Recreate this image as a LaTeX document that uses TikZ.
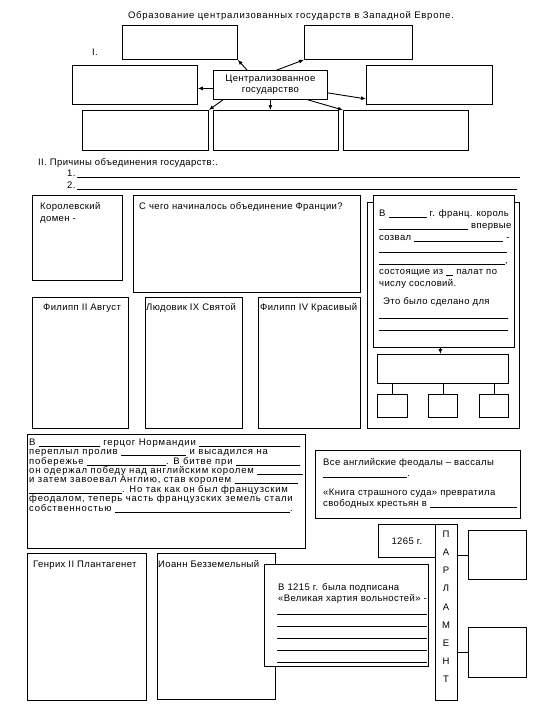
\documentclass[tikz,border=0pt]{standalone}
\usepackage{fontspec}
\setmainfont{Liberation Sans}[LetterSpace=4]
\usetikzlibrary{arrows.meta}
\newcommand{\bl}[1]{\rule[-1.2pt]{#1pt}{0.5pt}}
\newcommand{\blf}{\leaders\hrule height -0.7pt depth 1.2pt\hfill}
\newcommand{\fs}{\fontsize{9.5}{11}\selectfont}
\newcommand{\bx}[5]{\node[box, minimum width=#4pt, minimum height=#5pt] (#1) at (#2,#3) {};}
\begin{document}
\begin{tikzpicture}[x=1pt,y=-1pt,
 box/.style={draw, line width=0.8pt, fill=white, inner sep=0pt, anchor=north west},
 t/.style={anchor=base west, inner sep=0pt, font=\fs},
 tw/.style={anchor=base west, inner sep=0pt, font={\fs\addfontfeatures{LetterSpace=8.5}}},
 arr/.style={-{Latex[length=5pt,width=4pt]}, line width=0.9pt},
 ln/.style={line width=0.6pt}]
\useasboundingbox (0,0) rectangle (540,720);
\fill[white] (0,0) rectangle (540,720);

% ---------- part I ----------
\node[anchor=base, inner sep=0pt, font={\fs\addfontfeatures{LetterSpace=8}}] (title) at (291,18) {Образование централизованных государств в Западной Европе.};
\node[t] (n1) at (92,55) {I.};
\bx{tl}{122}{25}{115}{34}
\bx{tr}{304}{25}{108}{34}
\bx{lb}{72}{65}{125}{39}
\bx{rb}{366}{65}{126}{39}
\bx{bl}{82}{110}{126}{40}
\bx{bm}{213}{110}{125}{40}
\bx{br}{343}{110}{125}{40}
\node[box, minimum width=114pt, minimum height=29pt, align=center, font=\fontsize{9.5}{11.5}\selectfont] (c) at (213,70) {Централизованное\\государство};
\draw[arr] ([xshift=34pt]c.north west) -- (tl.south east);
\draw[arr] ([xshift=64pt]c.north west) -- (tr.south west);
\draw[arr] ([yshift=-3.5pt]c.west) -- ([yshift=-3.5pt]lb.east);
\draw[arr] ([yshift=-8pt]c.east) -- ([yshift=-14pt]rb.west);
\draw[arr] (c.south) -- (c.south |- bm.north);
\draw[arr] ([xshift=10pt]c.south west) -- (bl.north east);
\draw[arr] ([xshift=-20pt]c.south east) -- (br.north west);

% ---------- part II ----------
\node[t] (n2) at (38,165) {II. Причины объединения государств:.};
\node[t] (n21) at (67,176) {1.};
\node[t] (n22) at (67,188) {2.};
\draw[ln] (77,177) -- (520,177);
\draw[ln] (77,189) -- (517,189);

% ---------- France ----------
\bx{kd}{32}{195}{90}{85}
\node[t] (kd1) at (40,209) {Королевский};
\node[t] (kd2) at (40,221) {домен -};
\bx{sq}{133}{195}{227}{97}
\node[t] (sq1) at (139,209) {С чего начиналось объединение Франции?};
\bx{f2}{32}{297}{96}{131}
\bx{l9}{145}{297}{97}{131}
\bx{f4}{258}{297}{102}{131}
\node[t] (f2t) at (43,310) {Филипп II Август};
\node[t] (l9t) at (146,310) {Людовик IX Святой};
\node[t] (f4t) at (260,310) {Филипп IV Красивый};

\bx{outer}{367}{202}{152}{226}
\bx{inner}{373}{195}{141}{152}
\node[t] (r1) at (379,216) {В \bl{38} г. франц. король};
\node[t] (r2) at (379,228) {\bl{89} впервые};
\node[t] (r3) at (379,240) {созвал \bl{89} -};
\draw[ln] (379,252) -- (507,252);
\node[t] (r5) at (379,263) {\bl{126},};
\node[t] (r6) at (379,274) {состоящие из \bl{7} палат по};
\node[t] (r7) at (379,286) {числу сословий.};
\node[t] (r8) at (383,304) {Это было сделано для};
\draw[ln] (379,318) -- (508,318);
\draw[ln] (379,330) -- (508,330);
\bx{wide}{377}{354}{131}{29}
\bx{s1}{377}{394}{30}{23}
\bx{s2}{428}{394}{29}{23}
\bx{s3}{479}{394}{29}{23}
\draw[arr] ([xshift=-3.5pt]inner.south) -- ([xshift=-3.5pt]inner.south |- wide.north);
\draw[line width=0.8pt] (s1.north) -- (s1.north |- wide.south);
\draw[line width=0.8pt] (s2.north) -- (s2.north |- wide.south);
\draw[line width=0.8pt] (s3.north) -- (s3.north |- wide.south);

% ---------- England ----------
\bx{nm}{27}{434}{278}{114}
\node[tw] (nm1) at (29,445) {\makebox[271pt][l]{В \bl{61} герцог Нормандии \blf}};
\node[tw] (nm2) at (29,454) {переплыл пролив \bl{65} и высадился на};
\node[tw] (nm3) at (29,464) {\makebox[271pt][l]{побережье \bl{79}. В битве при \blf}};
\node[tw] (nm4) at (29,473) {\makebox[274pt][l]{он одержал победу над  английским королем \blf}};
\node[tw] (nm5) at (29,482) {\makebox[269pt][l]{и затем завоевал Англию, став королем  \blf}};
\node[tw] (nm6) at (29,492) {\bl{93}. Но так как он был французским};
\node[tw] (nm7) at (29,501) {феодалом, теперь часть французских земель стали};
\node[tw] (nm8) at (29,511) {\makebox[261pt][l]{собственностью \blf}.};

\bx{vs}{315}{450}{205}{68}
\node[t] (vs1) at (323,465) {Все английские феодалы – вассалы};
\node[t] (vs2) at (323,476) {\bl{84}.};
\node[t] (vs3) at (323,495) {«Книга страшного суда»  превратила};
\node[t] (vs4) at (323,506) {\makebox[194pt][l]{свободных крестьян в \blf}};

\bx{gn}{27}{553}{119}{147}
\node[t] (gnt) at (33,567) {Генрих II Плантагенет};
\bx{io}{157}{553}{118}{146}
\node[t] (iot) at (158,567) {Иоанн Безземельный};
\bx{mc}{264}{564}{164}{102}
\node[t] (mc1) at (278,590) {В 1215 г. была подписана};
\node[t] (mc2) at (278,601) {«Великая хартия вольностей» -};
\foreach \yy in {614,626,638,650,662} \draw[ln] (277,\yy) -- (427,\yy);

\node[box, minimum width=57pt, minimum height=33pt, font=\fs] (y1265) at (378,524) {1265 г.};
\bx{parl}{435}{524}{22}{176}
\foreach \l [count=\i] in {П,А,Р,Л,А,М,Е,Н,Т}
  \node[font=\fs, anchor=base, inner sep=0pt] (p\i) at (446,519+18.2*\i) {\l};
\bx{q1}{468}{530}{58}{49}
\bx{q2}{468}{627}{58}{50}
\draw[line width=0.8pt] (parl.east |- q1.west) -- (q1.west);
\draw[line width=0.8pt] (parl.east |- q2.west) -- (q2.west);
\end{tikzpicture}
\end{document}
